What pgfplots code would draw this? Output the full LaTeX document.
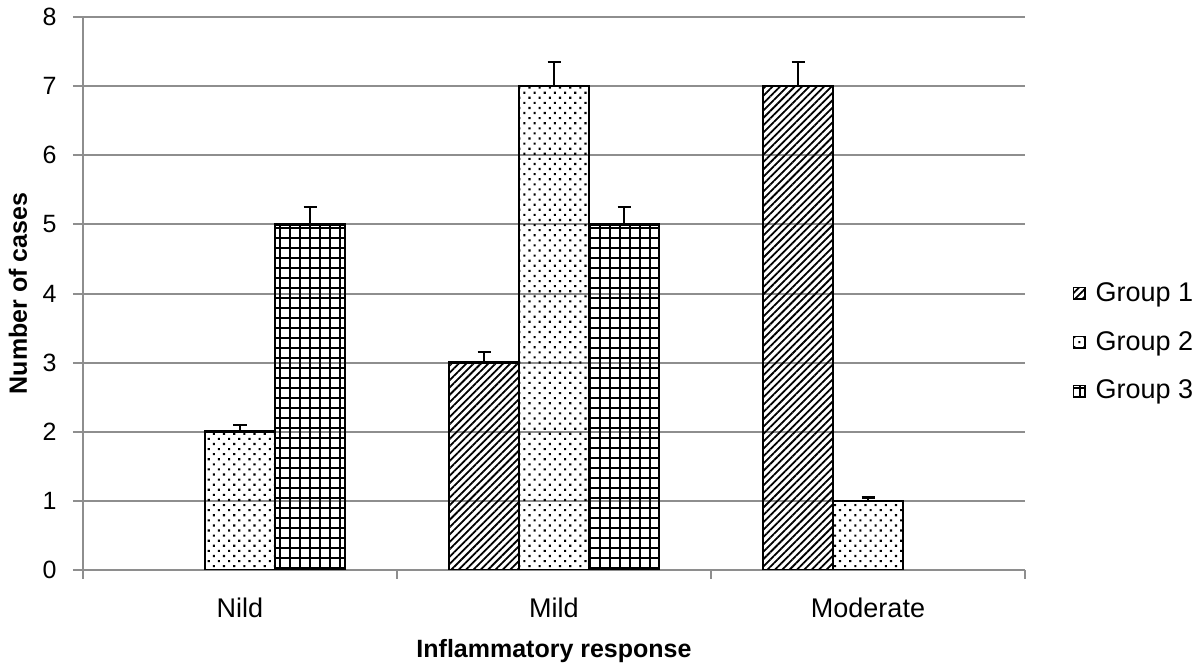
\documentclass[border=0pt]{standalone}
\usepackage{fontspec}
\setmainfont{Liberation Sans}
\usepackage{pgfplots}
\pgfplotsset{compat=1.18}
\usetikzlibrary{patterns.meta}
\definecolor{gridgray}{HTML}{8E8E8E}
\begin{document}
\begin{tikzpicture}
\begin{axis}[
  scale only axis,
  width=471pt, height=276.5pt,
  xmin=-0.5, xmax=2.5, ymin=0, ymax=8,
  ybar=0pt, bar width=35pt,
  axis x line*=bottom, axis y line*=left,
  axis line style={gridgray, line width=1pt},
  ymajorgrids, grid style={gridgray, line width=1pt},
  ytick={0,1,...,8},
  xtick={0,1,2}, xticklabels={Nild,Mild,Moderate},
  minor xtick={-0.5,0.5,1.5,2.5},
  tick align=outside,
  major tick length=5pt, minor tick length=4.5pt,
  xtick style={draw=none},
  ytick style={gridgray, line width=1pt},
  minor x tick style={draw=gridgray, line width=1pt},
  /pgf/number format/assume math mode=true,
  yticklabel style={font=\fontsize{12.5}{14}\selectfont, anchor=east, inner sep=0pt, xshift=-8pt},
  xticklabel style={font=\fontsize{13.5}{15}\selectfont, anchor=base, inner sep=0pt, yshift=-19pt},
  xlabel={Inflammatory response},
  ylabel={Number of cases},
  every axis x label/.style={at={(axis description cs:0.5,-0.1465)}, anchor=center,
    font=\fontsize{12.5}{14}\selectfont\bfseries},
  every axis y label/.style={at={(axis description cs:-0.069,0.5)}, rotate=90, anchor=center,
    font=\fontsize{12.5}{14}\selectfont\bfseries},
  legend image code/.code={\draw[#1, line width=0.7pt] (0pt,-2.9pt) rectangle (5.8pt,2.9pt);},
  legend style={at={(1.05,0.412)}, anchor=west, draw=none, fill=none,
    font=\fontsize{13.5}{15}\selectfont, row sep=10.5pt, inner sep=0pt,
    nodes={inner sep=1.5pt},
    /tikz/every odd column/.style={column sep=3.5pt}},
  legend cell align=left,
  error bars/y dir=plus, error bars/y explicit,
  error bars/error bar style={black, line width=1.1pt},
  error bars/error mark options={black, line width=1.1pt, mark size=3.25pt, rotate=90},
]
\addplot[draw=black, line width=1.3pt, pattern={Lines[angle=45, distance=2.6pt, line width=0.9pt]}]
  coordinates {(1,3) +- (0,0.15) (2,7) +- (0,0.35)};
\addplot[draw=black, line width=1.3pt, pattern={Dots[angle=45, distance=3.6pt, radius=0.75pt]}]
  coordinates {(0,2) +- (0,0.1) (1,7) +- (0,0.35) (2,1) +- (0,0.05)};
\addplot[draw=black, line width=1.3pt, pattern={Hatch[distance=5pt, line width=1pt]}]
  coordinates {(0,5) +- (0,0.25) (1,5) +- (0,0.25)};
\legend{Group 1, Group 2, Group 3}
\end{axis}
\pgfresetboundingbox
\path (-41.5pt,-49pt) rectangle (558.5pt,285pt);
\end{tikzpicture}
\end{document}
